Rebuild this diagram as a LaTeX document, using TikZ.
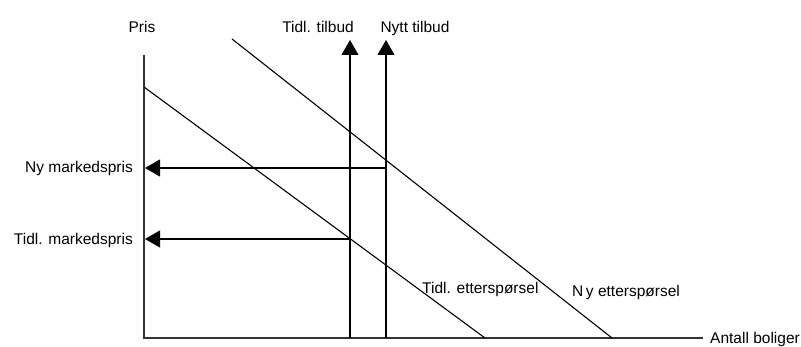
\documentclass[tikz,border=0pt]{standalone}
\usepackage{fontspec}
\setmainfont{Liberation Sans}
\usetikzlibrary{arrows.meta,positioning}

\begin{document}
\begin{tikzpicture}[x=1pt,y=-1pt,
  font=\fontsize{15.5}{18}\selectfont,
  lbl/.style={inner sep=0pt},
  ax/.style={line width=1.1pt,black!80},
  ln/.style={line width=1.1pt},
  arr/.style={-{Triangle[length=15pt,width=17pt]},line width=1.1pt}]
\useasboundingbox (0,0) rectangle (801,347);
% axes
\coordinate (o) at (144,338);
\coordinate (ytop) at (144,55);
\coordinate (xend) at (703,338);
% demand and supply
\coordinate (d1a) at (144,87);
\coordinate (d1b) at (485,338);
\coordinate (d2a) at (232,39);
\coordinate (d2b) at (612,338);
\coordinate (s1) at (350,338);
\coordinate (s1top) at (350,40);
\coordinate (s2) at (386,338);
\coordinate (s2top) at (386,40);
% prices
\coordinate (p1) at (350,239);
\coordinate (p1ax) at (145,239);
\coordinate (p2) at (386,168);
\coordinate (p2ax) at (145,168);
\node[lbl,anchor=base] (pris) at (142,33) {Pris};
\node[lbl,anchor=base] (tidltilbud) at (318,33) {Tidl. tilbud};
\node[lbl,anchor=base] (nytttilbud) at (415,33) {Nytt tilbud};
\node[lbl,anchor=base east] (nypris) at (133,173) {Ny markedspris};
\node[lbl,anchor=base east] (tidlpris) at (133,245) {Tidl. markedspris};
\node[lbl,anchor=base west] (tidlett) at (422,294) {Tidl. etterspørsel};
\node[lbl,anchor=base west] (nyett) at (572,297) {N\,y etterspørsel};
\node[lbl,right=7pt of xend,anchor=base west,yshift=-6pt] (antall) {Antall boliger};
\draw[ax] (ytop)--(o)--(xend);
\draw[ln] (d1a)--(d1b);
\draw[ln] (d2a)--(d2b);
\draw[arr] (s1)--(s1top);
\draw[arr] (s2)--(s2top);
\draw[arr] (p1)--(p1ax);
\draw[arr] (p2)--(p2ax);
\end{tikzpicture}
\end{document}
